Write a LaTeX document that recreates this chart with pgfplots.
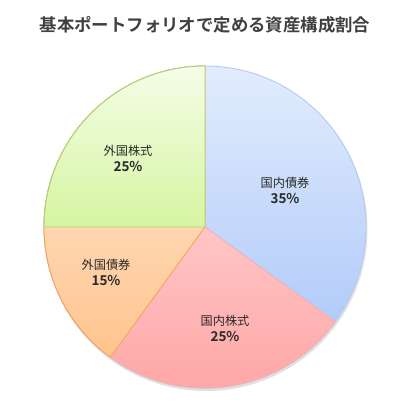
\documentclass[border=0pt]{standalone}
\usepackage{pgfplots}
\pgfplotsset{compat=1.18}
\usepackage{fontspec}
\setmainfont{Noto Sans CJK JP}[BoldFont={* Bold}]
\definecolor{titlec}{HTML}{404040}
\definecolor{labc}{HTML}{2A2A2A}
\definecolor{bTop}{HTML}{E2ECFD}\definecolor{bBot}{HTML}{A6C3F8}\definecolor{bLine}{HTML}{AFCBF5}
\definecolor{rTop}{HTML}{FFE4E4}\definecolor{rBot}{HTML}{FFA3A3}\definecolor{rLine}{HTML}{F5AEAE}
\definecolor{oTop}{HTML}{FFECDF}\definecolor{oBot}{HTML}{FFC48C}\definecolor{oLine}{HTML}{F7A35C}
\definecolor{gTop}{HTML}{F4FDE8}\definecolor{gBot}{HTML}{D6F5A0}\definecolor{gLine}{HTML}{ABD473}
% slice: start angle, percentage value, top, bottom, border
\newcommand{\slice}[5]{%
  \pgfmathsetmacro{\endang}{#1-#2*3.6}%
  \path[draw=#5, line width=0.9bp, top color=#3, bottom color=#4, line join=round]
    (axis cs:205,227) -- ++(#1:161bp) arc[start angle=#1, end angle=\endang, radius=161bp] -- cycle;}
\begin{document}
\begin{tikzpicture}
\begin{axis}[width=400bp,height=403bp,scale only axis,
  xmin=0,xmax=400,ymin=0,ymax=403,y dir=reverse,hide axis,clip=false]
\addplot[draw=none] coordinates {(0,0) (400,403)};
\fill[black, opacity=0.12] (axis cs:206,229.5) circle[radius=161.5bp];
\slice{90}{35}{bTop}{bBot}{bLine}
\slice{-36}{25}{rTop}{rBot}{rLine}
\slice{-126}{15}{oTop}{oBot}{oLine}
\slice{-180}{25}{gTop}{gBot}{gLine}
\node[text=titlec, font=\fontsize{17.4bp}{20bp}\selectfont\bfseries] at (axis cs:205,25) {基本ポートフォリオで定める資産構成割合};
\tikzset{lab/.style={text=labc, align=center, font=\fontsize{12.2bp}{16bp}\selectfont}}
\node[lab] at (axis cs:285,190) {国内債券\\{\bfseries\fontsize{13.5bp}{16bp}\selectfont 35\%}};
\node[lab] at (axis cs:225,328) {国内株式\\{\bfseries\fontsize{13.5bp}{16bp}\selectfont 25\%}};
\node[lab] at (axis cs:106,272) {外国債券\\{\bfseries\fontsize{13.5bp}{16bp}\selectfont 15\%}};
\node[lab] at (axis cs:128,158) {外国株式\\{\bfseries\fontsize{13.5bp}{16bp}\selectfont 25\%}};
\end{axis}
\pgfresetboundingbox
\useasboundingbox (current axis.south west) rectangle (current axis.north east);
\end{tikzpicture}
\end{document}
